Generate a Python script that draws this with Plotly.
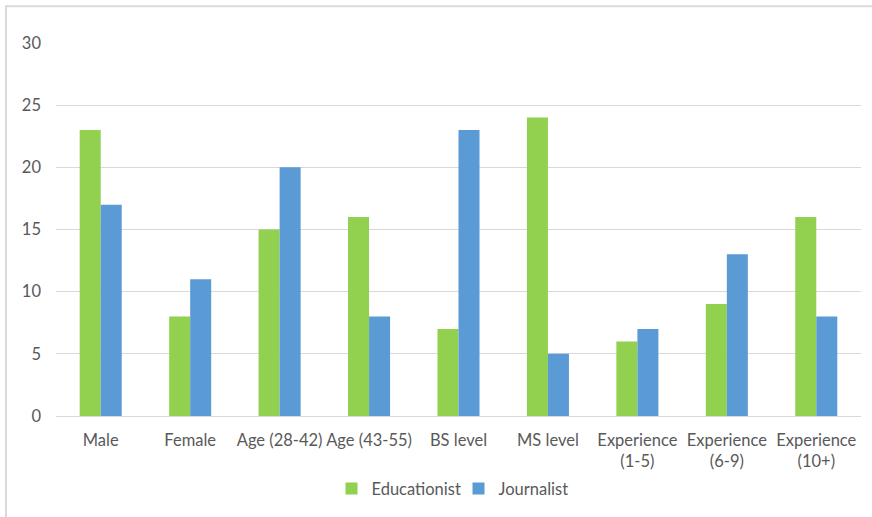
import plotly.graph_objects as go

categories = ["Male", "Female", "Age (28-42)", "Age (43-55)", "BS level", "MS level",
              "Experience<br>(1-5)", "Experience<br>(6-9)", "Experience<br>(10+)"]
educationist = [23, 8, 15, 16, 7, 24, 6, 9, 16]
journalist = [17, 11, 20, 8, 23, 5, 7, 13, 8]
y_ticks = [0, 5, 10, 15, 20, 25, 30]

FONT = "Lato, Carlito, 'Open Sans', sans-serif"
GRAY = "#595959"
FS = 16.5

fig = go.Figure()
fig.add_trace(go.Bar(name="Educationist", x=categories, y=educationist, marker_color="#92D050",
                     marker_line_width=0))
fig.add_trace(go.Bar(name="Journalist", x=categories, y=journalist, marker_color="#5B9BD5",
                     marker_line_width=0))

fig.update_layout(
    width=872, height=517,
    margin=dict(l=56, r=11, t=43, b=99),
    paper_bgcolor="white", plot_bgcolor="white",
    barmode="group", bargap=0.53, bargroupgap=0,
    font=dict(family=FONT, size=FS, color=GRAY),
    legend=dict(orientation="h", x=0.5, xanchor="center", y=-0.195, yanchor="middle",
                font=dict(size=FS, color=GRAY), itemwidth=30, traceorder="normal",
                entrywidth=82),
    showlegend=True,
)
fig.update_yaxes(range=[0, 30], tickvals=y_ticks, showgrid=True, gridcolor="#d9d9d9", gridwidth=1,
                 zeroline=True, zerolinecolor="#d9d9d9", zerolinewidth=1, showline=False,
                 ticks="", ticklabelstandoff=14, tickfont=dict(size=FS, color=GRAY))
fig.update_xaxes(showline=True, linecolor="#d9d9d9", linewidth=1, ticks="", showgrid=False,
                 tickfont=dict(size=FS, color=GRAY), ticklabelstandoff=9, tickangle=0)

fig.add_shape(type="rect", xref="paper", yref="paper",
              x0=-0.0621, x1=1.2, y0=-0.6, y1=1.0987,
              line=dict(color="#d9d9d9", width=2), fillcolor="rgba(0,0,0,0)", layer="below")

fig.write_html("out.html")
